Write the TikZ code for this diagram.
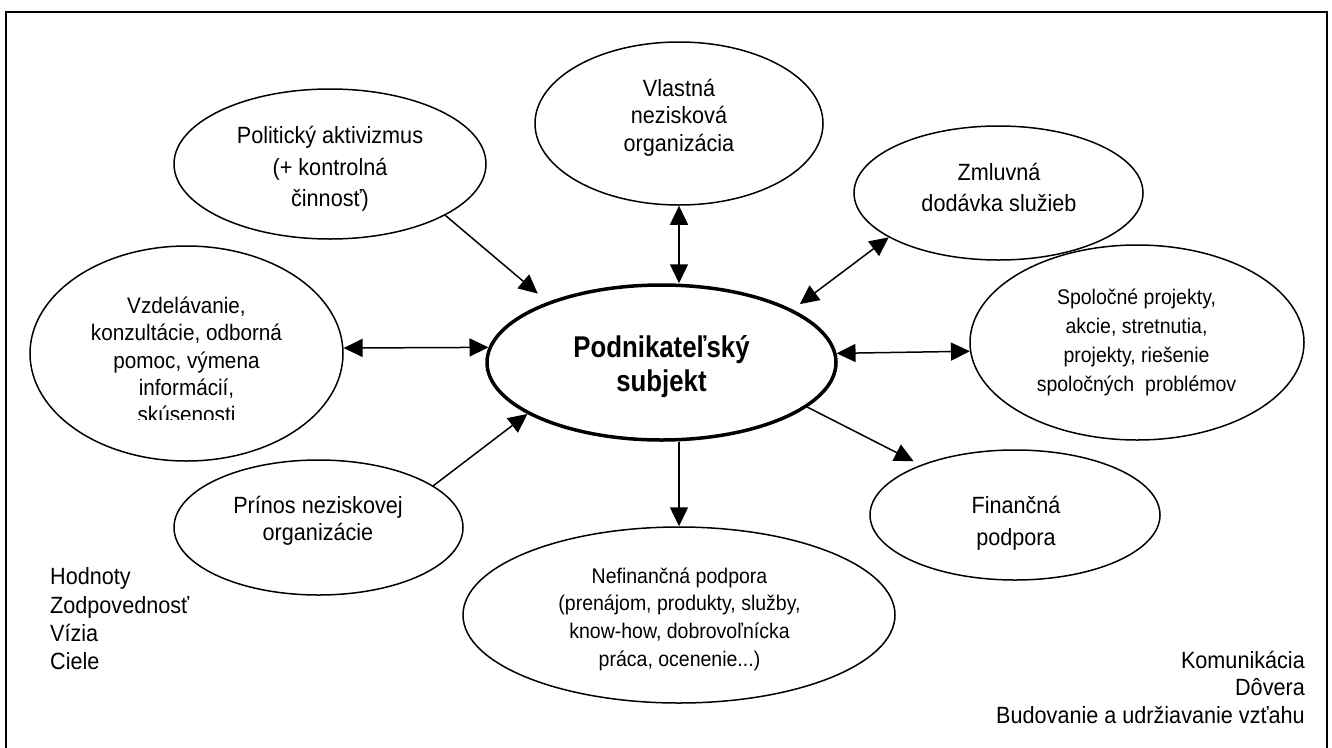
\documentclass[tikz,border=0pt]{standalone}
\usepackage{fontspec}
\setmainfont{Liberation Sans}[FakeStretch=0.92]
\newfontfamily\cenfont{Liberation Sans}[FakeStretch=0.86]
\usetikzlibrary{arrows.meta,shapes.geometric}
\tikzset{
  ell/.style={draw, ellipse, line width=1.5pt, inner sep=0pt},
  arr/.style={line width=1.5pt, -{Triangle[length=19pt,width=18pt]}},
  darr/.style={line width=1.5pt, {Triangle[length=19pt,width=18pt]}-{Triangle[length=19pt,width=18pt]}},
  txt/.style={align=center, inner sep=0pt},
}
\begin{document}
\begin{tikzpicture}[x=1pt,y=-1pt]
\useasboundingbox (0,0) rectangle (1332,747);
% frame (open at the bottom edge of the picture)
\draw[line width=2pt] (6,750) -- (6,12) -- (1327,12) -- (1327,750);

% ellipses
\node[ell, minimum width=312pt, minimum height=150pt] (pol) at (330,164) {};
\node[ell, minimum width=288pt, minimum height=163pt] (vla) at (679,123.5) {};
\node[ell, minimum width=289pt, minimum height=134pt] (zml) at (998.5,193) {};
\node[ell, minimum width=334pt, minimum height=195pt] (spo) at (1137,342.5) {};
\node[ell, minimum width=313pt, minimum height=215pt] (vzd) at (186.5,353.5) {};
\node[ell, line width=3.5pt, minimum width=349pt, minimum height=155pt] (cen) at (661.5,362.5) {};
\node[ell, minimum width=289pt, minimum height=135pt] (pri) at (318.5,527.5) {};
\node[ell, minimum width=290pt, minimum height=130pt] (fin) at (1015,515) {};
\node[ell, minimum width=432pt, minimum height=176pt] (nef) at (679,615) {};

% texts
\node[txt, font={\fontsize{23.5}{31.5}\selectfont}] (pol-t) at (330,169) {Politický aktivizmus\\(+ kontrolná\\činnosť)};
\node[txt, font={\fontsize{23.5}{27.5}\selectfont}] (vla-t) at (679,117.5) {Vlastná\\nezisková\\organizácia};
\node[txt, font={\fontsize{23.5}{31.7}\selectfont}] (zml-t) at (999,187.5) {Zmluvná\\dodávka služieb};
\node[txt, font={\fontsize{21.2}{29}\selectfont}] (spo-t) at (1136.5,342) {Spoločné projekty,\\akcie, stretnutia,\\projekty, riešenie\\spoločných\ \ problémov};
\begin{scope}
\clip (0,0) rectangle (1332,419);
\node[txt, font={\fontsize{22.5}{27.3}\selectfont}] (vzd-t) at (186.5,360) {Vzdelávanie,\\konzultácie, odborná\\pomoc, výmena\\informácií,\\skúsenosti};
\end{scope}
\node[txt, font={\cenfont\bfseries\fontsize{30}{34.4}\selectfont}] (cen-t) at (661.5,366.5) {Podnikateľský\\subjekt};
\node[txt, font={\fontsize{23.5}{26.7}\selectfont}] (pri-t) at (318,520.5) {Prínos neziskovej\\organizácie};
\node[txt, font={\fontsize{23.5}{32}\selectfont}] (fin-t) at (1016,523) {Finančná\\podpora};
\node[txt, font={\fontsize{21.2}{27.7}\selectfont}] (nef-t) at (679.5,619) {Nefinančná podpora\\(prenájom, produkty, služby,\\know-how, dobrovoľnícka\\práca, ocenenie...)};
\node[txt, align=left, anchor=west, font={\fontsize{23.5}{28.3}\selectfont}] (hod) at (50,619) {Hodnoty\\Zodpovednosť\\Vízia\\Ciele};
\node[txt, align=right, anchor=east, font={\fontsize{23.5}{27.5}\selectfont}] (kom) at (1305,687) {Komunikácia\\Dôvera\\Budovanie a udržiavanie vzťahu};

% connectors
\draw[arr, shorten >=13pt] (pol.-24.3) -- (cen.152.1);
\draw[darr] (vla.south) -- (vla.south |- cen.north);
\draw[darr, shorten <=9pt] (cen.22) -- (zml.202.2);
\draw[darr] (vzd.2) -- (cen.175.2);
\draw[darr] (cen.3.3) -- (spo.183.6);
\draw[arr, shorten >=8pt] (cen.-17.4) -- (fin.152.5);
\draw[arr] (pri.20.4) -- (cen.201.4);
\draw[arr] (nef.north |- cen.south) -- (nef.north);
\end{tikzpicture}
\end{document}
